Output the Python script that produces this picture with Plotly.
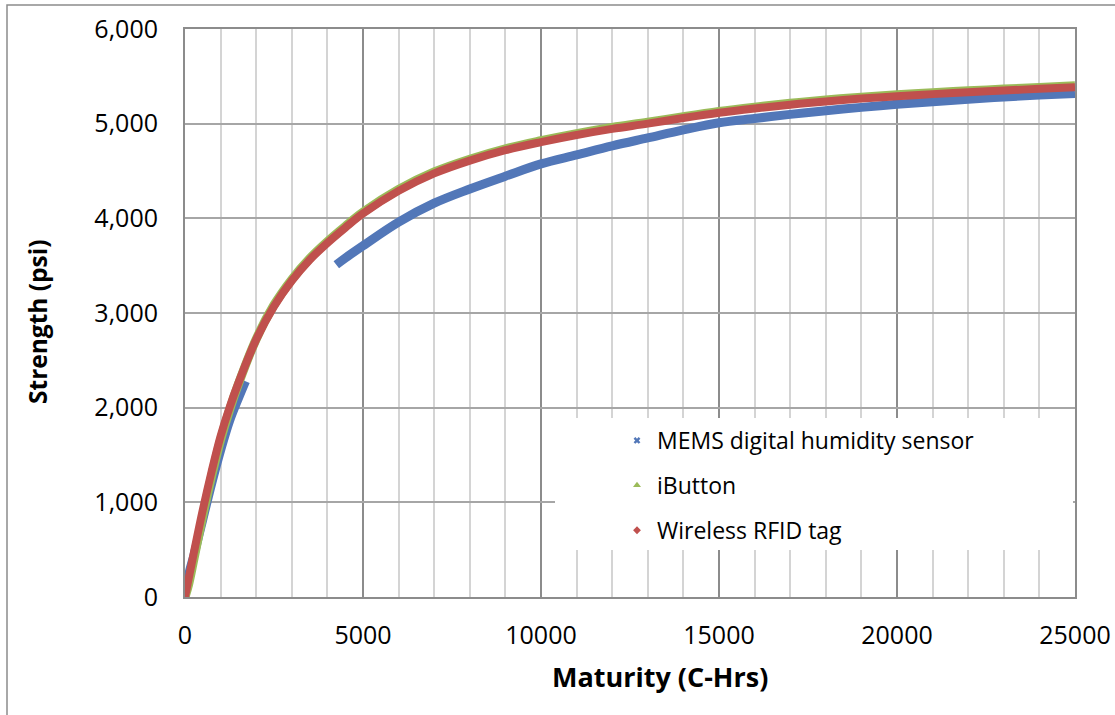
import plotly.graph_objects as go

# ---------------- data ----------------
rfid_x = [0, 100, 250, 500, 750, 1000, 1250, 1500, 2000, 2500, 3000, 3500, 4000, 4500,
          5000, 6000, 7000, 8000, 9000, 10000, 11000, 12000, 13000, 14000, 15000,
          16000, 17000, 18000, 19000, 20000, 21000, 22000, 23000, 24000, 25000]
rfid_y = [0, 190, 470, 920, 1330, 1700, 2000, 2260, 2720, 3070, 3340, 3560, 3740, 3900,
          4050, 4290, 4475, 4610, 4720, 4805, 4880, 4945, 5000, 5060, 5115,
          5160, 5200, 5235, 5265, 5290, 5312, 5332, 5350, 5368, 5385]

ibutton_x = [0, 100, 250, 500, 750, 1000, 1250, 1500, 2000, 2500, 3000, 3500, 4000, 4500,
             5000, 6000, 7000, 8000, 9000, 10000, 11000, 12000, 13000, 14000, 15000,
             16000, 17000, 18000, 19000, 20000, 21000, 22000, 23000, 24000, 25000]
ibutton_y = [0, 130, 400, 860, 1280, 1660, 1975, 2250, 2725, 3085, 3355, 3575, 3755, 3915,
             4065, 4305, 4490, 4625, 4735, 4820, 4895, 4960, 5015, 5075, 5130,
             5175, 5215, 5250, 5280, 5305, 5327, 5347, 5365, 5383, 5400]

# MEMS sensor: early readings, a gap with no data, then later readings
mems_early_x = [0, 100, 250, 500, 750, 1000, 1250, 1500, 1700]
mems_early_y = [0, 230, 440, 820, 1200, 1550, 1860, 2100, 2280]
mems_late_x = [4250, 4500, 5000, 6000, 7000, 8000, 9000, 10000, 11000, 12000, 13000,
               14000, 15000, 16000, 17000, 18000, 19000, 20000, 21000, 22000, 23000,
               24000, 25000]
mems_late_y = [3510, 3580, 3710, 3960, 4160, 4310, 4445, 4575, 4670, 4765, 4850,
               4935, 5010, 5055, 5098, 5137, 5172, 5204, 5232, 5258, 5282,
               5302, 5320]

series_names = ["MEMS digital humidity sensor", "iButton", "Wireless RFID tag"]
x_title = "Maturity (C-Hrs)"
y_title = "Strength (psi)"

# ---------------- styling ----------------
BLUE = "#5277b8"
GREEN = "#9bbb59"
RED = "#c0504d"
FONT = "Open Sans"

W, H = 1115, 715
L, R, T, B = 185, 40, 29, 118
PW, PH = W - L - R, H - T - B


def px_to_paper(px, py):
    return (px - L) / PW, (H - B - py) / PH


fig = go.Figure()

mems_x = mems_early_x + [None] + mems_late_x
mems_y = mems_early_y + [None] + mems_late_y

fig.add_trace(go.Scatter(x=mems_x, y=mems_y, mode="lines", line=dict(color=BLUE, width=9, shape="spline"),
                         showlegend=False, name=series_names[0]))
fig.add_trace(go.Scatter(x=ibutton_x, y=ibutton_y, mode="lines", line=dict(color=GREEN, width=9, shape="spline"),
                         showlegend=False, name=series_names[1]))
fig.add_trace(go.Scatter(x=rfid_x, y=rfid_y, mode="lines", line=dict(color=RED, width=8, shape="spline"),
                         showlegend=False, name=series_names[2]))

# legend entries (marker symbols only, as in the reference)
for name, col, sym, size in [(series_names[0], BLUE, "x", 6),
                             (series_names[1], GREEN, "triangle-up", 7),
                             (series_names[2], RED, "diamond", 6)]:
    fig.add_trace(go.Scatter(x=[None], y=[None], mode="markers", name=name, legendgroup=name,
                             marker=dict(color=col, symbol=sym, size=size, line=dict(width=0))))

lx, ly = px_to_paper(617, 419)
rx0, ry1 = px_to_paper(555, 418)
rx1, ry0 = px_to_paper(1073, 550)
ox0, oy1 = px_to_paper(7, 5)
ox1, oy0 = px_to_paper(1140, 740)
xtx, xty = px_to_paper(660, 676)
ytx, yty = px_to_paper(37, 322)

fig.update_layout(
    width=W, height=H,
    margin=dict(l=L, r=R, t=T, b=B, autoexpand=False),
    paper_bgcolor="white", plot_bgcolor="white",
    font=dict(family=FONT, color="black"),
    showlegend=True,
    legend=dict(x=lx, y=ly, xanchor="left", yanchor="top", bgcolor="rgba(0,0,0,0)",
                font=dict(family=FONT, size=23, color="black"),
                traceorder="grouped", tracegroupgap=12, itemwidth=30),
    xaxis=dict(range=[0, 25000], dtick=5000, tick0=0, tickformat="d",
               showgrid=True, gridcolor="#8c8c8c", gridwidth=2,
               minor=dict(dtick=1000, showgrid=True, gridcolor="#d4d4d4", gridwidth=2),
               showline=True, mirror=True, linecolor="#8c8c8c", linewidth=2,
               ticks="outside", ticklen=15, tickcolor="rgba(0,0,0,0)",
               tickfont=dict(family=FONT, size=25, color="black"), zeroline=False),
    yaxis=dict(range=[0, 6000], dtick=1000, tick0=0, tickformat=",d",
               showgrid=True, gridcolor="#a6a6a6", gridwidth=2,
               showline=True, mirror=True, linecolor="#8c8c8c", linewidth=2,
               ticks="outside", ticklen=20, tickcolor="rgba(0,0,0,0)",
               tickfont=dict(family=FONT, size=25, color="black"), zeroline=False),
    shapes=[
        dict(type="rect", xref="paper", yref="paper", x0=rx0, x1=rx1, y0=ry0, y1=ry1,
             fillcolor="white", line=dict(width=0), layer="above"),
        dict(type="rect", xref="paper", yref="paper", x0=ox0, x1=ox1, y0=oy0, y1=oy1,
             fillcolor="rgba(0,0,0,0)", line=dict(color="#8c8c8c", width=1.5), layer="below"),
    ],
    annotations=[
        dict(text="<b>" + x_title + "</b>", xref="paper", yref="paper", x=xtx, y=xty,
             showarrow=False, xanchor="center", yanchor="middle",
             font=dict(family=FONT, size=27, color="black")),
        dict(text="<b>" + y_title + "</b>", xref="paper", yref="paper", x=ytx, y=yty,
             showarrow=False, xanchor="center", yanchor="middle", textangle=-90,
             font=dict(family=FONT, size=24.5, color="black")),
    ],
)

fig.write_html("out.html", config={"displayModeBar": False},
               post_script="document.body.style.margin='0px';")
